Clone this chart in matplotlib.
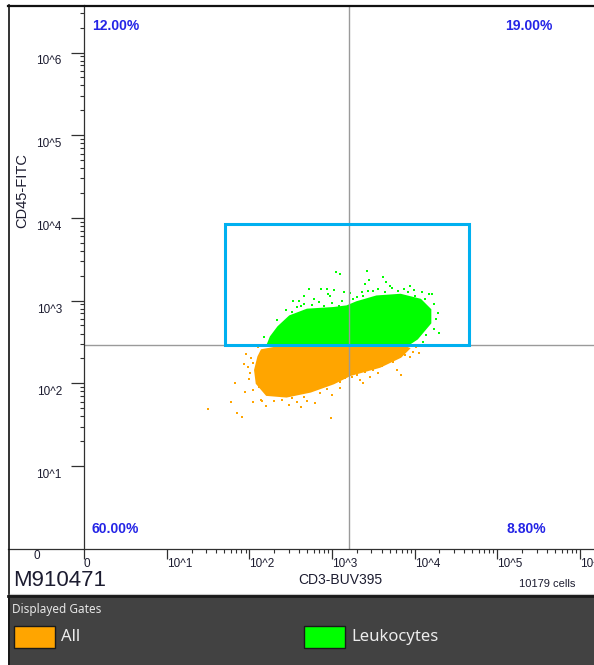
import numpy as np
import matplotlib.pyplot as plt
from matplotlib.patches import Polygon, Rectangle
from matplotlib.lines import Line2D
from matplotlib.transforms import ScaledTranslation

plt.rcParams['font.family'] = ['Liberation Sans', 'DejaVu Sans']

# values, in decades (log10 of intensity)
# dense core of the "All" population below the CD45 threshold
all_core_cd3 = [2.15, 2.37, 3.22, 3.83, 3.93, 3.83, 3.58, 3.22, 3.02, 2.74, 2.45, 2.21, 2.09, 2.07, 2.11]
all_core_cd45 = [2.40, 2.44, 2.46, 2.46, 2.42, 2.32, 2.20, 2.10, 2.00, 1.90, 1.84, 1.86, 2.00, 2.16, 2.32]
# scattered events around it
all_cd3 = [1.50, 1.78, 1.83, 1.93, 1.95, 2.05, 2.15, 2.58, 2.62, 2.80, 2.99, 3.24, 3.38, 3.60,
           3.79, 3.83, 3.95, 4.05, 3.91, 2.01, 2.05, 2.37, 3.10, 3.46, 3.74, 1.85, 1.91,
           2.10, 2.02, 1.98, 2.00, 2.04, 2.14, 2.30, 2.40, 2.52, 2.66, 2.86, 2.94, 3.10, 3.16,
           3.30, 3.40, 3.50, 3.66, 3.74, 3.88, 3.98, 4.02, 2.20, 2.48, 2.70, 3.00, 3.34, 3.56,
           2.12, 1.96]
all_cd45 = [1.69, 1.77, 2.00, 2.23, 1.90, 1.77, 1.79, 1.77, 1.71, 1.76, 1.58, 2.08, 2.00, 2.21,
            2.16, 2.10, 2.32, 2.37, 2.40, 2.12, 2.24, 1.92, 1.94, 2.08, 2.26, 1.64, 1.59,
            2.44, 2.30, 2.20, 2.05, 1.92, 1.80, 1.78, 1.80, 1.82, 1.84, 1.88, 1.93, 2.02, 2.06,
            2.10, 2.14, 2.16, 2.24, 2.30, 2.34, 2.38, 2.44, 1.72, 1.74, 1.78, 1.86, 2.04, 2.12,
            1.96, 2.36]

# Leukocytes (inside the gate)
leu_core_cd3 = [2.22, 2.26, 2.35, 2.49, 2.70, 3.02, 3.18, 3.30, 3.54, 3.83, 4.07, 4.19, 4.19, 4.03, 3.91]
leu_core_cd45 = [2.46, 2.56, 2.68, 2.81, 2.89, 2.91, 2.93, 2.98, 3.05, 3.07, 3.01, 2.89, 2.73, 2.54, 2.46]
leu_cd3 = [3.05, 3.10, 3.43, 3.45, 3.62, 2.72, 2.87, 2.94, 3.03, 3.14, 2.78, 2.66, 2.53, 2.45,
           2.33, 2.27, 2.18, 3.50, 3.73, 3.87, 3.99, 4.09, 4.21, 4.28, 4.29, 4.15, 4.07, 3.30,
           3.38, 3.22, 2.62, 2.98, 2.47, 2.41, 2.37,
           2.40, 2.44, 2.52, 2.58, 2.66, 2.76, 2.84, 2.90, 3.00, 3.08, 3.12, 3.20, 3.26, 3.36,
           3.44, 3.56, 3.64, 3.70, 3.80, 3.92, 4.00, 4.12, 4.24, 4.26, 4.24, 4.14, 4.10, 2.28,
           2.25, 3.40, 3.95, 2.95, 2.60, 3.66, 4.18]
leu_cd45 = [3.35, 3.32, 3.36, 3.25, 3.29, 3.14, 3.14, 3.14, 3.13, 3.11, 3.02, 3.06, 2.99, 2.89,
            2.77, 2.56, 2.56, 3.12, 3.15, 3.14, 3.13, 3.11, 3.08, 2.85, 2.61, 2.89, 2.60, 3.04,
            3.06, 3.09, 2.93, 3.05, 2.77, 2.68, 2.60,
            2.62, 2.74, 2.86, 2.92, 2.96, 2.95, 2.98, 2.94, 2.97, 2.93, 3.00, 2.92, 3.02, 3.10,
            3.12, 3.14, 3.10, 3.18, 3.12, 3.10, 3.06, 3.02, 2.96, 2.78, 2.66, 2.58, 2.50, 2.50,
            2.52, 3.20, 3.18, 3.08, 3.00, 3.22, 3.08]

gate_cd3 = (51, 45700)
gate_cd45 = (290, 8440)
quad_cd3 = 1620
quad_cd45 = 290
quad_pct = ['12.00%', '19.00%', '60.00%', '8.80%']

x_ticks = [1, 1e1, 1e2, 1e3, 1e4, 1e5, 1e6]
x_labels = ['0', '10^1', '10^2', '10^3', '10^4', '10^5', '10^6']
y_ticks = [1e1, 1e2, 1e3, 1e4, 1e5, 1e6]
y_labels = ['10^1', '10^2', '10^3', '10^4', '10^5', '10^6']

sample = 'M910471'
n_cells = 10179
gates = ['All', 'Leukocytes']
gate_colors = ['#ffa500', '#00ff00']

W, H = 594, 665


def fx(px):
    return px / W


def fy(py):
    return 1 - py / H


fig = plt.figure(figsize=(W / 100, H / 100), dpi=100)
fig.patch.set_facecolor('white')

dec = 82.65
ax_bottom = 466 + 82.7
ax = fig.add_axes([fx(84), fy(ax_bottom), (W - 84) / W, (ax_bottom - 5) / H])
ax.set_xscale('log')
ax.set_yscale('log')

# populations
ax.add_patch(Polygon(np.column_stack([10 ** np.array(all_core_cd3), 10 ** np.array(all_core_cd45)]),
                     closed=True, facecolor=gate_colors[0], edgecolor=gate_colors[0], lw=1.5))
ax.plot(10 ** np.array(all_cd3), 10 ** np.array(all_cd45), 's', ms=1.8, mew=0, color=gate_colors[0])
ax.add_patch(Polygon(np.column_stack([10 ** np.array(leu_core_cd3), 10 ** np.array(leu_core_cd45)]),
                     closed=True, facecolor=gate_colors[1], edgecolor=gate_colors[1], lw=1.5))
ax.plot(10 ** np.array(leu_cd3), 10 ** np.array(leu_cd45), 's', ms=1.8, mew=0, color=gate_colors[1])

# quadrant
ax.axvline(quad_cd3, color='#9a9a9a', lw=1.0)
ax.axhline(quad_cd45, color='#9a9a9a', lw=1.0)

# gate
ax.add_patch(Rectangle((gate_cd3[0], gate_cd45[0]), gate_cd3[1] - gate_cd3[0], gate_cd45[1] - gate_cd45[0],
                       fill=False, edgecolor='#00b0f0', lw=2.2, zorder=5))

for s in ['top', 'right', 'bottom']:
    ax.spines[s].set_visible(False)
ax.spines['left'].set_color('#303030')
ax.spines['left'].set_linewidth(0.9)

minor = [k * 10 ** d for d in range(1, 7) for k in range(2, 10)]
ax.set_xticks(x_ticks, x_labels)
ax.set_yticks(y_ticks, y_labels)
ax.set_xticks(minor, minor=True)
ax.set_yticks(minor, minor=True)
ax.xaxis.set_minor_formatter(plt.NullFormatter())
ax.yaxis.set_minor_formatter(plt.NullFormatter())
# limits after the ticks, otherwise set_xticks widens them
ax.set_xlim(1, 10 ** ((W - 84) / dec))
ax.set_ylim(1, 10 ** ((ax_bottom - 5) / 82.7))
ax.tick_params(axis='y', which='major', length=9.4, width=0.9, color='#303030', pad=6.5,
               labelsize=8.5, labelcolor='#1c1c30')
ax.tick_params(axis='y', which='minor', length=3, width=0.8, color='#303030')
ax.tick_params(axis='x', which='major', length=7, width=0.9, color='#303030', pad=0,
               labelsize=8.5, labelcolor='#1c1c30')
ax.tick_params(axis='x', which='minor', length=3, width=0.8, color='#303030')
shift = ScaledTranslation(0, -3 / 100, fig.dpi_scale_trans)
for t in ax.get_yticklabels():
    t.set_va('top')
    t.set_transform(t.get_transform() + shift)
for t in ax.get_xticklabels():
    t.set_ha('left')

# quadrant stats
pct_kw = dict(color='#2424e6', fontsize=10, fontweight='bold', va='center')
fig.text(fx(92), fy(26), quad_pct[0], ha='left', **pct_kw)
fig.text(fx(529), fy(26), quad_pct[1], ha='center', **pct_kw)
fig.text(fx(92), fy(529), quad_pct[2], ha='left', **pct_kw)
fig.text(fx(526), fy(529), quad_pct[3], ha='center', **pct_kw)

# axis labels and footer text
fig.text(fx(22), fy(191), 'CD45-FITC', rotation=90, ha='center', va='center', fontsize=10.5, color='#1c1c30')
fig.text(fx(340), fy(580), 'CD3-BUV395', ha='center', va='center', fontsize=10, color='#1c1c30')
fig.text(fx(37), fy(556), '0', ha='center', va='center', fontsize=8.5, color='#1c1c30')
fig.text(fx(13), fy(581), sample, ha='left', va='center', fontsize=16, color='#1c1c30')
fig.text(fx(575), fy(584), f'{n_cells} cells', ha='right', va='center', fontsize=8, color='#1c1c30')

# frame lines
fig.add_artist(Line2D([fx(8), 1], [fy(549), fy(549)], color='#303030', lw=0.9))
fig.add_artist(Line2D([fx(8), 1], [fy(5.5), fy(5.5)], color='#111111', lw=1.6))
fig.add_artist(Line2D([fx(8.5), fx(8.5)], [fy(5), 0], color='#111111', lw=1.2))
fig.add_artist(Line2D([fx(8), 1], [fy(593.5), fy(593.5)], color='#c8c8c8', lw=0.8))

# gate legend panel
fig.add_artist(Rectangle((fx(8), 0), 1 - fx(8), fy(595), transform=fig.transFigure,
                         facecolor='#424242', edgecolor='none'))
fig.add_artist(Line2D([fx(8), 1], [fy(595.5), fy(595.5)], color='#1a1a1a', lw=2.0))
fig.add_artist(Line2D([fx(8.5), fx(8.5)], [fy(595), 0], color='#1a1a1a', lw=1.2))
fig.text(fx(12), fy(610), 'Displayed Gates', ha='left', va='center', fontsize=8.5,
         color='#e6e6e6', family=['Noto Sans', 'DejaVu Sans'])
for i, (name, col) in enumerate(zip(gates, gate_colors)):
    x0 = 14 + i * 290
    fig.add_artist(Rectangle((fx(x0), fy(648)), (41) / W, 22 / H, transform=fig.transFigure,
                             facecolor=col, edgecolor='#1a1a1a', lw=1.0))
    fig.text(fx(x0 + 47), fy(637), name, ha='left', va='center', fontsize=12,
             color='#ececec', family=['Noto Sans', 'DejaVu Sans'])

fig.savefig('out.png', dpi=100)
